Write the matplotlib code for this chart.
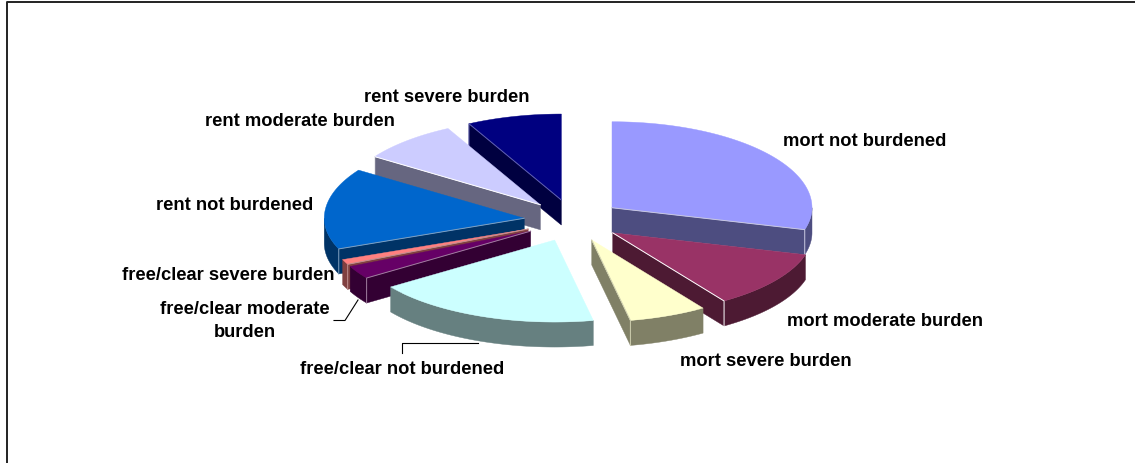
import numpy as np
import matplotlib
matplotlib.use('Agg')
import matplotlib.pyplot as plt
from matplotlib.patches import Polygon

plt.rcParams['font.family'] = ['Liberation Sans', 'DejaVu Sans']

# shares, clockwise from 12 o'clock
labels = ['mort not burdened', 'mort moderate burden', 'mort severe burden',
          'free/clear not burdened', 'free/clear moderate\nburden', 'free/clear severe burden',
          'rent not burdened', 'rent moderate burden', 'rent severe burden']
values = [29.3, 11.3, 6.3, 18.4, 2.6, 1.0, 15.55, 7.9, 7.64]
colors = ['#9999FF', '#993366', '#FFFFCC', '#CCFFFF', '#660066', '#FF8080', '#0066CC', '#CCCCFF', '#000080']
edge_cols = ['#C8C8E0', '#FFFFFF', '#D0D0B0', '#FFFFFF', '#A080A0', '#C09090', '#80A0C0', '#FFFFFF', '#6060B0']
label_x = [865, 885, 766, 402, 245, 228, 235, 300, 447]
label_y = [142, 321, 362, 370, 321, 276, 206, 121, 98]

cx, cy = 573, 220.5
rx, ry_back, ry_front = 200, 86, 82
depth = 25
explode = 0.245


def darker(c, f=0.5):
    r = np.array(matplotlib.colors.to_rgb(c))
    return tuple(r * f)


def pt(ax0, ay0, t):
    # the front of the pie is a little flatter than the back
    c = np.cos(t)
    return ax0 + rx * np.sin(t), ay0 - np.where(c > 0, ry_back, ry_front) * c


fig = plt.figure(figsize=(11.35, 4.63), dpi=100)
ax = fig.add_axes([0, 0, 1, 1])
ax.set_xlim(0, 1135)
ax.set_ylim(463, 0)
ax.axis('off')

# chart frame, only left and top are in the crop
ax.plot([6.5, 6.5, 1135], [463, 1.5, 1.5], color='#222222', lw=1.4, zorder=1)

fracs = np.array(values) / sum(values)
edges = np.concatenate([[0], np.cumsum(fracs)]) * 2 * np.pi

slices = []
for i in range(len(values)):
    t0, t1 = edges[i], edges[i + 1]
    mid = (t0 + t1) / 2
    ax0 = cx + explode * rx * np.sin(mid)
    ay0 = cy - explode * ry_back * np.cos(mid)
    slices.append((ay0, i, t0, t1, ax0))

# back to front
for n, (ay0, i, t0, t1, ax0) in enumerate(sorted(slices)):
    z = 5 + n
    ts = np.linspace(t0, t1, 80)
    xs, ys = pt(ax0, ay0, ts)
    dark = darker(colors[i])

    # outer rim, only the part facing us
    lo, hi = max(t0, np.pi / 2), min(t1, 3 * np.pi / 2)
    if hi > lo:
        tr = np.linspace(lo, hi, 60)
        rx_, ry_ = pt(ax0, ay0, tr)
        rim = np.column_stack([np.r_[rx_, rx_[::-1]], np.r_[ry_, ry_[::-1] + depth]])
        ax.add_patch(Polygon(rim, closed=True, fc=dark, ec=dark, lw=0.3, zorder=z))

    # cut faces
    vis = []
    if t1 < np.pi:
        vis.append(t1)
    if t0 > np.pi:
        vis.append(t0)
    for t in vis:
        ex, ey = pt(ax0, ay0, t)
        face = [(ax0, ay0), (ex, ey), (ex, ey + depth), (ax0, ay0 + depth)]
        ax.add_patch(Polygon(face, closed=True, fc=dark, ec=dark, lw=0.3, zorder=z))

    top = np.column_stack([np.r_[ax0, xs], np.r_[ay0, ys]])
    ax.add_patch(Polygon(top, closed=True, fc=colors[i], ec=colors[i], lw=0.3, zorder=z))

    # thin light line along the edges that face us
    for t in vis:
        ex, ey = pt(ax0, ay0, t)
        ax.plot([ax0, ex, ex], [ay0, ey, ey + depth], color=edge_cols[i], lw=0.7, zorder=z)

for name, x, y in zip(labels, label_x, label_y):
    ax.text(x, y, name, ha='center', va='center', fontsize=13.2, fontweight='bold',
            color='black', linespacing=1.5, zorder=30)

# leader lines
ax.plot([334, 345, 358], [320.5, 320.5, 300], color='black', lw=0.8, zorder=30)
ax.plot([401.5, 401.5, 478], [353, 342.5, 342.5], color='black', lw=0.8, zorder=30)

fig.savefig('out.png', dpi=100)
